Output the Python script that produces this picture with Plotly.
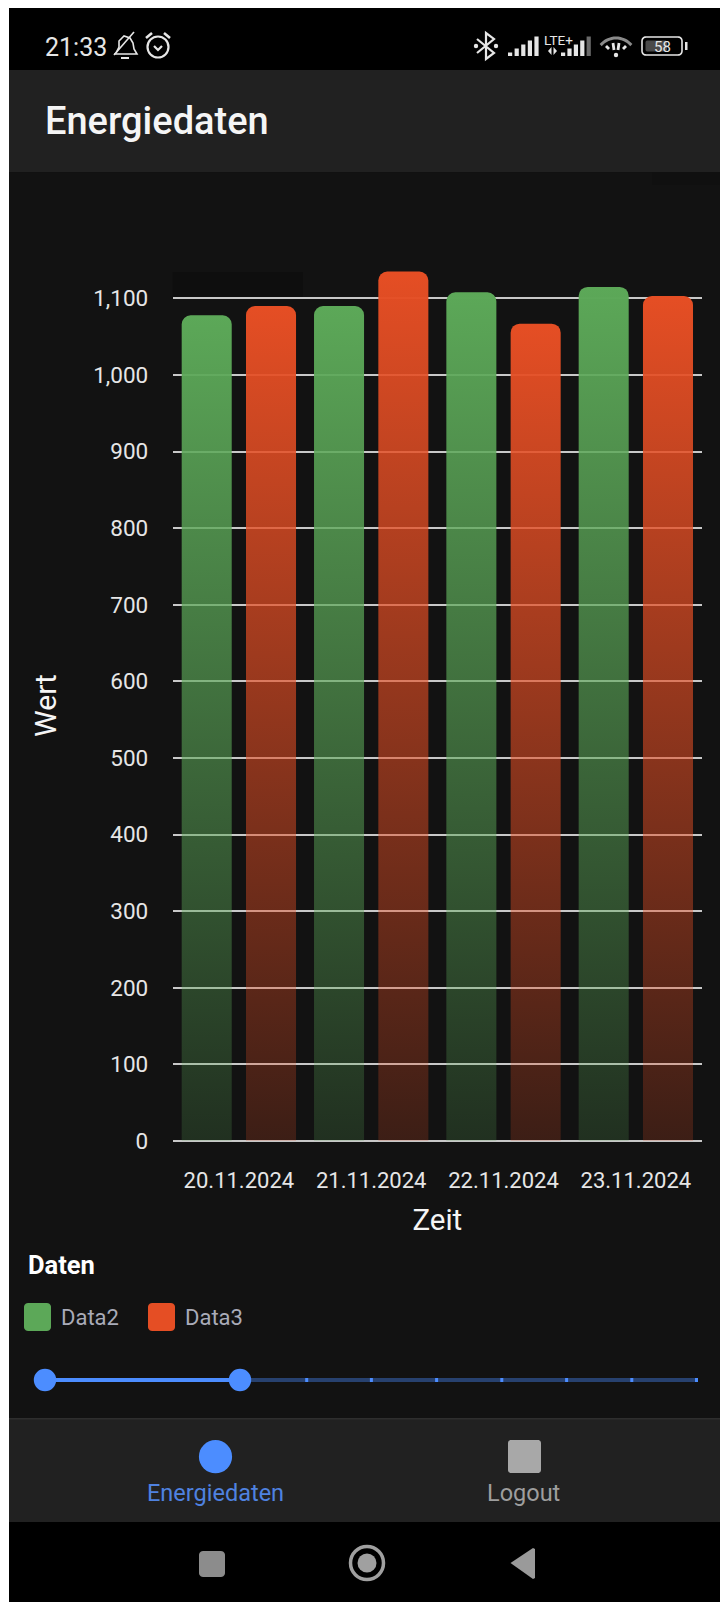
import math
import plotly.graph_objects as go

# Chart data
dates = ["20.11.2024", "21.11.2024", "22.11.2024", "23.11.2024"]
data2 = [1078, 1090, 1108, 1115]
data3 = [1090, 1135, 1067, 1103]
y_ticks = list(range(0, 1101, 100))
series_names = ["Data2", "Data3"]
series_colors = ["#5CA858", "#E54E24"]

W, H = 720, 1602
PLOT_LEFT, PLOT_RIGHT = 172.7, 702
PLOT_TOP, PLOT_BOTTOM = 270, 1141
Y_MAX = (PLOT_BOTTOM - PLOT_TOP) / 0.766


def X(px):
    return px / W


def Y(py):
    return 1 - py / H


def rect(x0, y0, x1, y1, color):
    return dict(type="rect", xref="paper", yref="paper", layer="below",
                x0=X(x0), x1=X(x1), y0=Y(y0), y1=Y(y1),
                fillcolor=color, line_width=0)


def path(points, fill=None, stroke=None, width=1.5, close=False):
    """Polyline through pixel points, in paper coordinates."""
    d = "M " + " L ".join(f"{X(a):.5f},{Y(b):.5f}" for a, b in points)
    if close:
        d += " Z"
    return dict(type="path", xref="paper", yref="paper", layer="below", path=d,
                fillcolor=fill or "rgba(0,0,0,0)",
                line=dict(color=stroke or "rgba(0,0,0,0)", width=width if stroke else 0))


def round_rect(x0, y0, x1, y1, r, fill=None, stroke=None, width=1.5):
    pts = []
    for cx, cy, a0 in ((x1 - r, y0 + r, -90), (x1 - r, y1 - r, 0),
                       (x0 + r, y1 - r, 90), (x0 + r, y0 + r, 180)):
        for k in range(7):
            a = math.radians(a0 + k * 15)
            pts.append((cx + r * math.cos(a), cy + r * math.sin(a)))
    return path(pts, fill, stroke, width, close=True)


def circle(cx, cy, r, fill=None, stroke=None, width=1.5):
    return dict(type="circle", xref="paper", yref="paper", layer="below",
                x0=X(cx - r), x1=X(cx + r), y0=Y(cy + r), y1=Y(cy - r),
                fillcolor=fill or "rgba(0,0,0,0)",
                line=dict(color=stroke or "rgba(0,0,0,0)", width=width if stroke else 0))


def arc(cx, cy, r, a0, a1, stroke, width):
    n = 16
    pts = []
    for k in range(n + 1):
        a = math.radians(a0 + (a1 - a0) * k / n)
        pts.append((cx + r * math.cos(a), cy + r * math.sin(a)))
    return path(pts, None, stroke, width)


def label(text, x, y, size, color, anchor="center", weight=400, angle=0):
    return dict(text=text, x=X(x), y=Y(y), xref="paper", yref="paper",
                xanchor=anchor, yanchor="middle", showarrow=False, textangle=angle,
                font=dict(family="Roboto", size=size, color=color, weight=weight))


BODY, BAR_BG = "#121212", "#212121"
ICON = "#e6e6e6"

shapes = [
    # App chrome
    rect(9, 8, 720, 1602, "#000000"),
    rect(9, 70, 720, 172.5, BAR_BG),
    rect(9, 172.5, 720, 1418, BODY),
    rect(652, 172.5, 720, 185, "#101010"),
    rect(172.7, 272, 303, 298, "#0E0E0E"),
    rect(9, 1418, 720, 1522, BAR_BG),
    rect(9, 1418, 720, 1419.5, "#2E2E2E"),
]

# Alarm-off bell
shapes += [
    path([(116, 53), (119, 47), (119, 41), (124, 36), (130, 38), (133, 43), (134, 49), (137, 54), (114, 54)],
         None, ICON, 1.6),
    path([(114, 55), (134, 32)], None, ICON, 1.6),
    path([(121, 58), (129, 58)], None, ICON, 2),
]
# Alarm clock
shapes += [
    circle(158, 47, 10.5, None, ICON, 2.2),
    path([(154, 46), (158, 50), (162, 46)], None, ICON, 2.2),
    path([(146, 38), (152, 33)], None, ICON, 2.6),
    path([(164, 33), (170, 38)], None, ICON, 2.6),
]
# Bluetooth
shapes += [
    path([(477, 39), (494, 53), (486, 59), (486, 33), (494, 39), (477, 53)], None, ICON, 2.2),
    circle(476, 46, 2.2, ICON),
    circle(496, 46, 2.2, ICON),
]
# Cell signal bars
for base, step, bars, dim_last in ((508, 6.6, 5, False), (561, 6.4, 5, True)):
    for i in range(bars):
        left = base + i * step
        top = 52.5 - i * 4
        color = "#6a6a6a" if dim_last and i == bars - 1 else ICON
        shapes.append(rect(left, top, left + 4.2, 56, color))
shapes += [
    path([(548, 51), (551.5, 47), (551.5, 55)], ICON, None, close=True),
    path([(553.5, 47), (553.5, 55), (557, 51)], ICON, None, close=True),
]
# Wifi
shapes += [
    arc(616, 58, 20, 220, 320, "#8A8A8A", 3),
    path([(606, 46), (609, 49)], None, ICON, 2.8),
    path([(626, 46), (623, 49)], None, ICON, 2.8),
    path([(613, 43), (614, 50)], None, ICON, 2.8),
    path([(619, 43), (618, 50)], None, ICON, 2.8),
    circle(616, 55, 2.2, ICON),
]
# Battery
shapes += [
    round_rect(642, 37, 682, 55, 4, None, ICON, 1.6),
    round_rect(645.5, 40.5, 667, 51.5, 2, "#4A4A4A"),
    rect(685, 42, 687.5, 50, ICON),
]

# Legend swatches
shapes += [
    round_rect(24, 1303, 51, 1331, 4, series_colors[0]),
    round_rect(148, 1303, 175, 1331, 4, series_colors[1]),
]

# Range slider
shapes += [
    rect(45, 1378, 698, 1382, "#27416F"),
    rect(45, 1378, 240, 1382, "#4C8DFF"),
]
for tick_x in (306.7, 371.4, 436.6, 501.8, 566.6, 631.8, 696.5):
    shapes.append(rect(tick_x - 1.5, 1378, tick_x + 1.5, 1382, "#4C8DFF"))
shapes += [circle(45, 1380, 11.2, "#4C8DFF"), circle(240, 1380, 11.2, "#4C8DFF")]

# Bottom navigation
shapes += [
    circle(215.5, 1456.7, 16.6, "#4C8DFF"),
    round_rect(508, 1440, 541, 1473, 3, "#A8A8A8"),
]

# System buttons
shapes += [
    round_rect(199, 1551, 225, 1577, 4, "#8C8C8C"),
    circle(367, 1563, 16.5, None, "#A0A0A0", 3.5),
    circle(367, 1563, 9.5, "#A0A0A0"),
    path([(510.5, 1563), (533, 1548), (535, 1549), (535, 1578), (533, 1579)], "#9A9A9A", None, close=True),
]

annotations = [
    label("21:33", 43, 48, 25, ICON, "left"),
    label("LTE+", 558.5, 39.5, 13.5, ICON),
    label("58", 662, 46.5, 15, ICON),
    label("Energiedaten", 43, 120.5, 38, "#F5F5F5", "left", 500),
    label("Daten", 25.5, 1264.5, 25.5, "#FFFFFF", "left", 700),
    label("Data2", 58.5, 1317, 22, "#A9ABB8", "left"),
    label("Data3", 183, 1317, 22, "#A9ABB8", "left"),
    label("Energiedaten", 215, 1492.5, 23.5, "#4F82E0"),
    label("Logout", 523.5, 1492.5, 23.5, "#9E9E9E"),
]

fig = go.Figure()
for name, values in zip(series_names, (data2, data3)):
    fig.add_trace(go.Bar(name=name, x=dates, y=values, marker=dict(line_width=0)))

fig.update_layout(
    width=W, height=H, autosize=False,
    margin=dict(l=0, r=0, t=0, b=0, pad=0),
    paper_bgcolor="#FFFFFF", plot_bgcolor="rgba(0,0,0,0)",
    showlegend=False, barmode="group", bargap=0.028, bargroupgap=0.222,
    barcornerradius=9,
    font=dict(family="Roboto", color="#E6E6E6"),
    shapes=shapes, annotations=annotations,
    xaxis=dict(
        domain=[X(PLOT_LEFT), X(PLOT_RIGHT)], anchor="y", showgrid=False, zeroline=False,
        ticks="outside", ticklen=20, tickcolor="rgba(0,0,0,0)",
        tickfont=dict(family="Roboto", size=22, color="#E6E6E6"),
        title=dict(text="Zeit", standoff=16, font=dict(family="Roboto", size=29.5, color="#F5F5F5")),
        automargin=False,
    ),
    yaxis=dict(
        domain=[Y(PLOT_BOTTOM), Y(PLOT_TOP)], anchor="x", range=[0, Y_MAX],
        tickmode="array", tickvals=y_ticks, tickformat=",d",
        showgrid=True, gridcolor="#C8C8C8", gridwidth=1.8,
        zeroline=True, zerolinecolor="#C8C8C8", zerolinewidth=1.8,
        ticks="outside", ticklen=19, tickcolor="rgba(0,0,0,0)",
        tickfont=dict(family="Roboto", size=22.5, color="#E6E6E6"),
        title=dict(text="Wert", standoff=27, font=dict(family="Roboto", size=30, color="#F5F5F5")),
        automargin=False,
    ),
)

# Bars fade towards the baseline; Plotly has no gradient fill for bars, so the
# rendered bar paths are pointed at SVG gradients once the plot exists.
gradient_js = """
var gd = document.getElementById('{plot_id}');
var svg = gd.querySelector('.main-svg');
var NS = 'http://www.w3.org/2000/svg';
var defs = document.createElementNS(NS, 'defs');
var colors = %s;
colors.forEach(function (c, i) {
  var g = document.createElementNS(NS, 'linearGradient');
  g.setAttribute('id', 'barfade' + i);
  g.setAttribute('x1', '0'); g.setAttribute('y1', '0');
  g.setAttribute('x2', '0'); g.setAttribute('y2', '1');
  [[0, 1], [1, 0.2]].forEach(function (s) {
    var stop = document.createElementNS(NS, 'stop');
    stop.setAttribute('offset', s[0]);
    stop.setAttribute('stop-color', c);
    stop.setAttribute('stop-opacity', s[1]);
    g.appendChild(stop);
  });
  defs.appendChild(g);
});
svg.insertBefore(defs, svg.firstChild);
gd.querySelectorAll('.barlayer .trace.bars').forEach(function (t, i) {
  t.querySelectorAll('path').forEach(function (p) {
    p.style.fill = 'url(#barfade' + i + ')';
    p.style.fillOpacity = 1;
  });
});
""" % (str(series_colors))

fig.write_html("out.html", post_script=gradient_js, config=dict(displayModeBar=False))
